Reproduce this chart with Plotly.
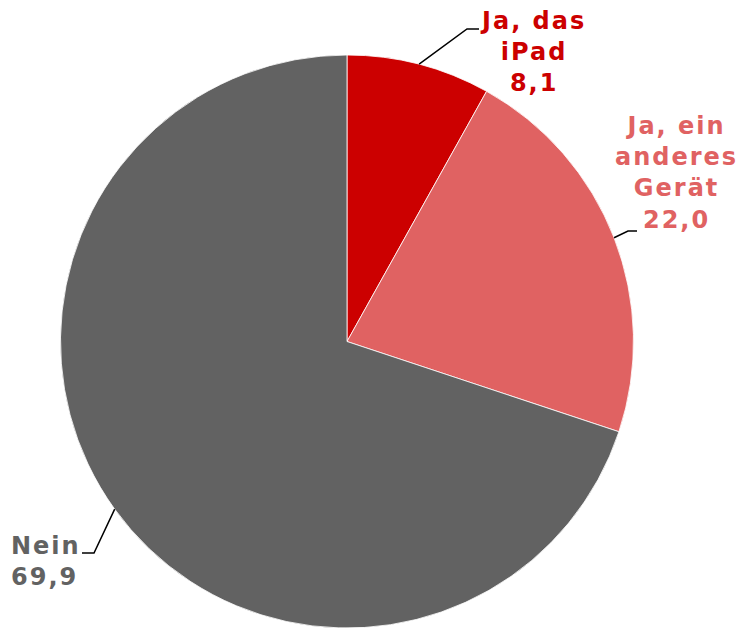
import math
import plotly.graph_objects as go

labels = ["Ja, das<br>iPad", "Ja, ein<br>anderes<br>Gerät", "Nein"]
values = [8.1, 22.0, 69.9]
value_labels = ["8,1", "22,0", "69,9"]
colors = ["#CC0000", "#E06262", "#626262"]

W, H = 738, 628
CX, CY, R = 347, 341.5, 286.5

# label layout (pixels): elbow point, end of horizontal, text anchor
layout_cfg = [
    dict(elbow=(467, 29), end=(479, 29), text=(533, 52), xanchor="center", align="center"),
    dict(elbow=(628, 231), end=(637, 231), text=(676, 173), xanchor="center", align="center"),
    dict(elbow=(94, 553), end=(82, 553), text=(9, 561), xanchor="left", align="left"),
]

def px(x):
    return x / W

def py(y):
    return 1 - y / H

fig = go.Figure(go.Pie(
    labels=[l.replace("<br>", " ") for l in labels],
    values=values,
    sort=False,
    direction="clockwise",
    rotation=0,
    marker=dict(colors=colors, line=dict(color="white", width=0.8)),
    textinfo="none",
    hoverinfo="label+value",
    domain=dict(x=[(CX - R) / W, (CX + R) / W], y=[py(CY + R), py(CY - R)]),
    showlegend=False,
))

total = sum(values)
cum = 0.0
shapes = []
annotations = []
for i, v in enumerate(values):
    mid = (cum + v / 2) / total * 2 * math.pi
    cum += v
    sx = CX + R * math.sin(mid)
    sy = CY - R * math.cos(mid)
    cfg = layout_cfg[i]
    ex, ey = cfg["elbow"]
    fx, fy = cfg["end"]
    path = f"M {px(sx)} {py(sy)} L {px(ex)} {py(ey)} L {px(fx)} {py(fy)}"
    shapes.append(dict(type="path", xref="paper", yref="paper", path=path,
                       line=dict(color="black", width=1.5)))
    tx, ty = cfg["text"]
    annotations.append(dict(
        x=px(tx), y=py(ty), xref="paper", yref="paper",
        text=f"{labels[i]}<br>{value_labels[i]}",
        showarrow=False, xanchor=cfg["xanchor"], yanchor="middle",
        align=cfg["align"],
        font=dict(family="DejaVu Sans", size=24, color=colors[i], weight="bold"),
    ))

fig.update_layout(
    width=W, height=H,
    margin=dict(l=0, r=0, t=0, b=0),
    paper_bgcolor="white",
    plot_bgcolor="white",
    shapes=shapes,
    annotations=annotations,
)

post = """
document.body.style.margin = '0';
document.body.style.overflow = 'hidden';
document.querySelectorAll('.annotation-text').forEach(function(e){
  e.style.letterSpacing = '2px';
});
"""

fig.write_html("out.html", post_script=post, config={"displayModeBar": False})
